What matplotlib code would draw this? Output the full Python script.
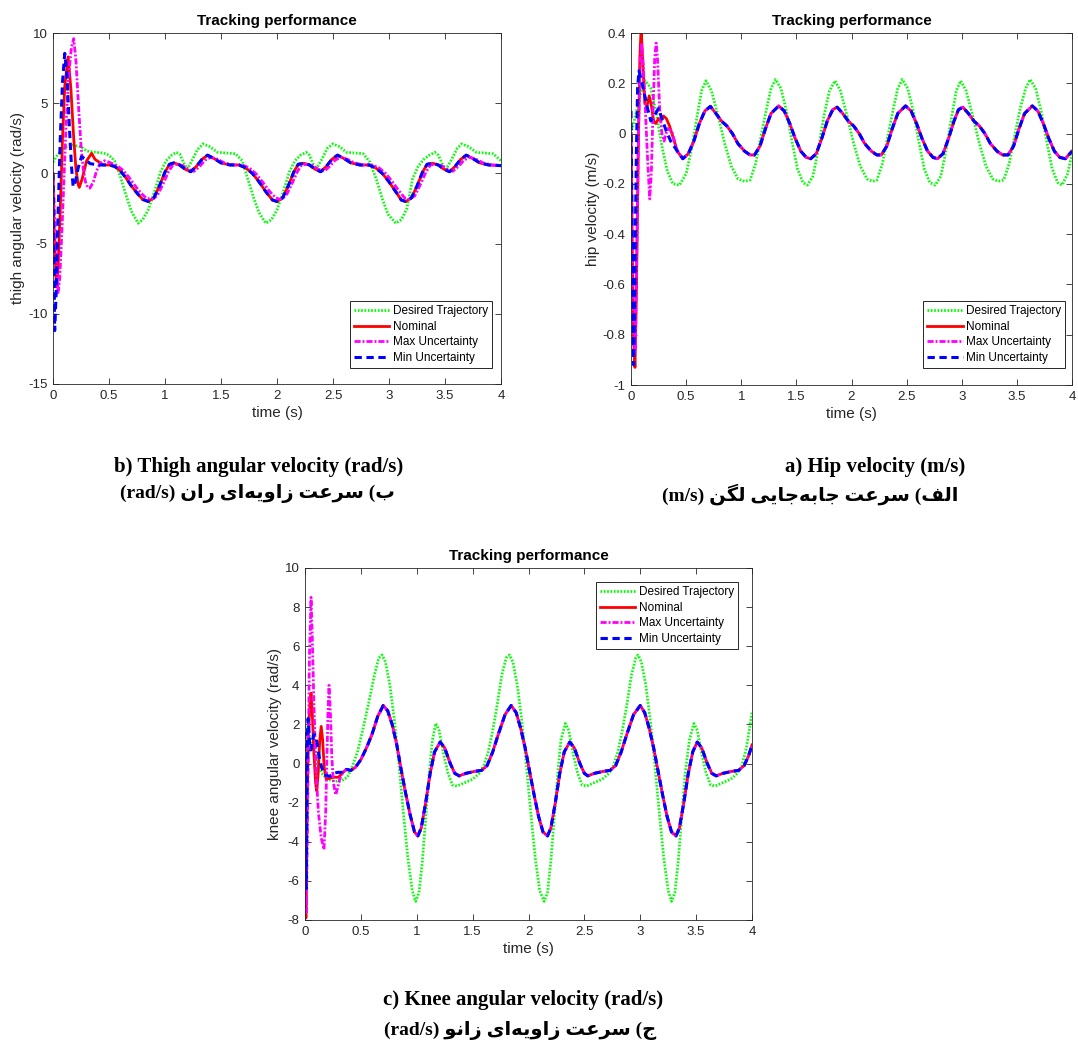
import numpy as np
import matplotlib.pyplot as plt

# ---------------- thigh angular velocity (rad/s) ----------------
thigh_desired = [
    (0.00, 0.8), (0.03, 1.2), (0.07, 1.6), (0.12, 1.9), (0.18, 2.0), (0.25, 1.9), (0.30, 1.6),
    (0.38, 1.5), (0.45, 1.45), (0.50, 1.3), (0.55, 0.9), (0.60, -0.2), (0.65, -1.5), (0.70, -2.7),
    (0.76, -3.55), (0.80, -3.3), (0.85, -2.6), (0.91, -1.2), (0.96, 0.1), (1.01, 0.9), (1.06, 1.3),
    (1.10, 1.5), (1.13, 1.4), (1.17, 0.7), (1.20, 0.3), (1.24, 0.9), (1.29, 1.7), (1.34, 2.1),
    (1.40, 1.9), (1.47, 1.5), (1.55, 1.45), (1.63, 1.4), (1.69, 0.9), (1.74, -0.4), (1.79, -1.7),
    (1.84, -2.8), (1.90, -3.55), (1.95, -3.3), (2.00, -2.6), (2.06, -1.2), (2.11, 0.1), (2.16, 0.9),
    (2.21, 1.3), (2.26, 1.5), (2.29, 1.3), (2.32, 0.7), (2.35, 0.3), (2.40, 1.0), (2.45, 1.8),
    (2.50, 2.1), (2.56, 1.9), (2.62, 1.5), (2.70, 1.45), (2.77, 1.4), (2.83, 0.8), (2.89, -0.5),
    (2.94, -1.8), (2.99, -2.9), (3.06, -3.55), (3.11, -3.3), (3.16, -2.5), (3.21, -0.4), (3.26, 0.5),
    (3.31, 1.0), (3.36, 1.3), (3.41, 1.5), (3.44, 1.3), (3.48, 0.6), (3.51, 0.3), (3.56, 1.0),
    (3.61, 1.8), (3.65, 2.1), (3.71, 1.9), (3.78, 1.5), (3.86, 1.45), (3.93, 1.4), (4.00, 0.9)]

thigh_nom_start = [
    (0.0, 0.0), (0.012, -4.5), (0.03, -8.1), (0.045, -6.8), (0.065, -2.5), (0.085, 2.5),
    (0.105, 6.2), (0.135, 8.3), (0.16, 6.0), (0.185, 2.5), (0.205, 0.3), (0.225, -0.8),
    (0.235, -1.0), (0.26, -0.4), (0.30, 0.9), (0.345, 1.43), (0.375, 1.0)]
thigh_min_start = [
    (0.0, 0.0), (0.007, -6.0), (0.015, -11.2), (0.028, -8.5), (0.045, -3.0), (0.065, 2.5),
    (0.085, 6.5), (0.105, 8.55), (0.125, 7.0), (0.145, 3.5), (0.165, 0.5), (0.18, -0.95),
    (0.20, -0.6), (0.225, 0.4), (0.255, 1.2), (0.29, 1.0), (0.33, 0.7), (0.40, 0.6)]
thigh_max_start = [
    (0.0, 0.0), (0.015, -3.0), (0.03, -6.5), (0.045, -8.5), (0.06, -7.5), (0.08, -4.0),
    (0.10, 0.0), (0.12, 4.0), (0.14, 7.0), (0.165, 9.0), (0.185, 9.6), (0.205, 8.0),
    (0.23, 4.5), (0.25, 2.0), (0.27, 0.3), (0.29, -0.6), (0.31, -1.0), (0.33, -1.05),
    (0.36, -0.6), (0.39, 0.2), (0.42, 0.7), (0.46, 0.9), (0.50, 0.8)]

thigh_track = [
    (0.45, 0.6), (0.50, 0.6), (0.55, 0.5), (0.60, 0.2), (0.65, -0.3), (0.70, -0.9), (0.75, -1.4),
    (0.80, -1.85), (0.85, -2.0), (0.90, -1.75), (0.95, -0.9), (1.00, 0.1), (1.04, 0.65),
    (1.08, 0.75), (1.13, 0.6), (1.18, 0.3), (1.23, 0.12), (1.28, 0.5), (1.33, 1.0), (1.38, 1.3),
    (1.44, 1.05), (1.50, 0.75), (1.58, 0.6), (1.66, 0.6), (1.72, 0.4), (1.78, 0.0), (1.84, -0.6),
    (1.90, -1.3), (1.96, -1.9), (2.00, -2.0), (2.05, -1.75), (2.10, -0.9), (2.15, 0.1),
    (2.19, 0.65), (2.24, 0.72), (2.29, 0.6), (2.34, 0.3), (2.39, 0.12), (2.44, 0.5), (2.49, 1.0),
    (2.54, 1.3), (2.60, 1.05), (2.66, 0.75), (2.74, 0.6), (2.82, 0.6), (2.88, 0.4), (2.94, 0.0),
    (3.00, -0.6), (3.06, -1.3), (3.11, -1.9), (3.15, -2.0), (3.20, -1.75), (3.25, -0.9),
    (3.30, 0.1), (3.34, 0.65), (3.39, 0.72), (3.44, 0.6), (3.49, 0.3), (3.54, 0.12), (3.59, 0.5),
    (3.64, 1.0), (3.69, 1.3), (3.75, 1.05), (3.81, 0.75), (3.89, 0.6), (3.95, 0.58), (4.00, 0.55)]
thigh_max_track = [
    (0.53, 0.7), (0.58, 0.5), (0.63, 0.2), (0.68, -0.3), (0.73, -0.85), (0.78, -1.35),
    (0.83, -1.75), (0.88, -1.85), (0.93, -1.6), (0.98, -0.8), (1.03, 0.1), (1.07, 0.6),
    (1.11, 0.65), (1.16, 0.55), (1.21, 0.3), (1.26, 0.15), (1.31, 0.5), (1.36, 0.95),
    (1.41, 1.15), (1.47, 1.0), (1.53, 0.75), (1.61, 0.6), (1.69, 0.6), (1.75, 0.4), (1.81, 0.0),
    (1.87, -0.6), (1.93, -1.25), (1.99, -1.75), (2.03, -1.85), (2.08, -1.6), (2.13, -0.8),
    (2.18, 0.1), (2.22, 0.6), (2.27, 0.65), (2.32, 0.55), (2.37, 0.3), (2.42, 0.15), (2.47, 0.5),
    (2.52, 0.95), (2.57, 1.15), (2.63, 1.0), (2.69, 0.75), (2.77, 0.6), (2.85, 0.6), (2.91, 0.4),
    (2.97, 0.0), (3.03, -0.6), (3.09, -1.25), (3.14, -1.75), (3.18, -1.85), (3.23, -1.6),
    (3.28, -0.8), (3.33, 0.1), (3.37, 0.6), (3.42, 0.65), (3.47, 0.55), (3.52, 0.3), (3.57, 0.15),
    (3.62, 0.5), (3.67, 0.95), (3.72, 1.15), (3.78, 1.0), (3.84, 0.75), (3.92, 0.6), (4.00, 0.55)]

# ---------------- hip velocity (m/s) ----------------
hip_desired = [
    (0.00, 0.0), (0.04, 0.07), (0.08, 0.15), (0.13, 0.21), (0.18, 0.18), (0.23, 0.08),
    (0.28, -0.05), (0.33, -0.15), (0.38, -0.2), (0.44, -0.205), (0.50, -0.16), (0.55, -0.06),
    (0.60, 0.07), (0.64, 0.17), (0.68, 0.21), (0.73, 0.17), (0.79, 0.07), (0.85, -0.04),
    (0.91, -0.13), (0.97, -0.18), (1.03, -0.19), (1.08, -0.185), (1.13, -0.12), (1.18, -0.01),
    (1.23, 0.1), (1.27, 0.18), (1.31, 0.215), (1.36, 0.18), (1.41, 0.09), (1.46, -0.03),
    (1.51, -0.14), (1.56, -0.195), (1.60, -0.205), (1.65, -0.17), (1.70, -0.06), (1.75, 0.07),
    (1.80, 0.17), (1.85, 0.21), (1.90, 0.17), (1.96, 0.07), (2.02, -0.04), (2.08, -0.13),
    (2.14, -0.18), (2.19, -0.19), (2.23, -0.185), (2.28, -0.12), (2.33, -0.01), (2.38, 0.1),
    (2.42, 0.18), (2.46, 0.215), (2.51, 0.18), (2.56, 0.09), (2.61, -0.03), (2.66, -0.14),
    (2.71, -0.195), (2.76, -0.205), (2.81, -0.17), (2.86, -0.06), (2.91, 0.07), (2.95, 0.17),
    (2.99, 0.21), (3.04, 0.17), (3.10, 0.07), (3.16, -0.04), (3.22, -0.13), (3.28, -0.18),
    (3.33, -0.19), (3.38, -0.185), (3.43, -0.12), (3.48, -0.01), (3.53, 0.1), (3.58, 0.18),
    (3.62, 0.215), (3.67, 0.18), (3.72, 0.09), (3.77, -0.03), (3.82, -0.14), (3.87, -0.195),
    (3.91, -0.205), (3.96, -0.16), (4.00, -0.08)]

hip_nom_start = [
    (0.0, 0.0), (0.01, -0.4), (0.022, -0.8), (0.036, -0.93), (0.05, -0.6), (0.065, -0.1),
    (0.08, 0.3), (0.092, 0.42), (0.105, 0.3), (0.125, 0.12), (0.145, 0.11), (0.165, 0.15),
    (0.185, 0.11), (0.205, 0.05), (0.225, 0.04), (0.25, 0.06), (0.27, 0.05), (0.295, 0.07),
    (0.32, 0.06), (0.35, 0.03)]
hip_min_start = [
    (0.0, 0.09), (0.008, -0.3), (0.018, -0.8), (0.024, -0.92), (0.035, -0.6), (0.048, -0.1),
    (0.06, 0.18), (0.072, 0.25), (0.09, 0.22), (0.115, 0.17), (0.15, 0.1), (0.18, 0.05),
    (0.21, 0.07), (0.25, 0.1), (0.28, 0.06), (0.32, 0.01), (0.36, -0.03)]
hip_max_start = [
    (0.0, 0.0), (0.012, -0.45), (0.028, -0.88), (0.04, -0.85), (0.055, -0.4), (0.07, 0.05),
    (0.085, 0.3), (0.097, 0.36), (0.11, 0.28), (0.13, 0.1), (0.15, -0.1), (0.17, -0.26),
    (0.185, -0.15), (0.2, 0.1), (0.215, 0.3), (0.228, 0.36), (0.24, 0.3), (0.26, 0.1),
    (0.28, 0.0), (0.3, -0.03), (0.33, 0.02), (0.37, 0.01)]

hip_track = [
    (0.42, -0.07), (0.47, -0.1), (0.52, -0.08), (0.57, -0.03), (0.62, 0.04), (0.67, 0.09),
    (0.72, 0.108), (0.77, 0.08), (0.82, 0.05), (0.87, 0.03), (0.92, 0.0), (0.97, -0.04),
    (1.03, -0.07), (1.08, -0.085), (1.12, -0.085), (1.17, -0.05), (1.22, 0.02), (1.27, 0.08),
    (1.34, 0.11), (1.39, 0.09), (1.44, 0.04), (1.49, -0.02), (1.54, -0.07), (1.59, -0.095),
    (1.63, -0.1), (1.68, -0.08), (1.73, -0.02), (1.78, 0.05), (1.83, 0.095), (1.87, 0.105),
    (1.92, 0.08), (1.97, 0.05), (2.02, 0.03), (2.07, 0.0), (2.12, -0.04), (2.18, -0.07),
    (2.23, -0.085), (2.27, -0.085), (2.32, -0.05), (2.37, 0.02), (2.42, 0.08), (2.49, 0.11),
    (2.54, 0.09), (2.59, 0.04), (2.64, -0.02), (2.69, -0.07), (2.74, -0.095), (2.78, -0.1),
    (2.83, -0.08), (2.88, -0.02), (2.93, 0.05), (2.97, 0.095), (3.01, 0.105), (3.06, 0.08),
    (3.11, 0.05), (3.16, 0.03), (3.21, 0.0), (3.26, -0.04), (3.32, -0.07), (3.37, -0.085),
    (3.42, -0.085), (3.47, -0.05), (3.52, 0.02), (3.57, 0.08), (3.64, 0.11), (3.69, 0.09),
    (3.74, 0.04), (3.79, -0.02), (3.84, -0.07), (3.89, -0.095), (3.94, -0.1), (3.98, -0.08),
    (4.00, -0.07)]

# ---------------- knee angular velocity (rad/s) ----------------
knee_desired = [
    (0.00, 1.9), (0.03, 1.6), (0.07, 1.0), (0.11, 0.2), (0.15, -0.5), (0.20, -0.8), (0.26, -0.9),
    (0.32, -0.9), (0.38, -0.7), (0.42, -0.2), (0.47, 0.6), (0.52, 1.8), (0.57, 3.1), (0.62, 4.5),
    (0.66, 5.4), (0.69, 5.55), (0.72, 5.2), (0.76, 4.0), (0.80, 2.2), (0.84, 0.0), (0.88, -2.5),
    (0.92, -4.8), (0.96, -6.5), (0.99, -7.05), (1.02, -6.6), (1.05, -5.0), (1.08, -2.8),
    (1.11, -0.6), (1.14, 1.2), (1.17, 2.05), (1.20, 1.7), (1.24, 0.5), (1.28, -0.5), (1.32, -1.1),
    (1.36, -1.15), (1.42, -1.0), (1.50, -0.8), (1.56, -0.5), (1.60, -0.1), (1.64, 0.6),
    (1.68, 1.7), (1.72, 3.0), (1.76, 4.5), (1.80, 5.4), (1.83, 5.55), (1.86, 5.2), (1.90, 4.0),
    (1.94, 2.2), (1.98, 0.0), (2.02, -2.5), (2.06, -4.8), (2.10, -6.5), (2.14, -7.05),
    (2.17, -6.6), (2.20, -5.0), (2.23, -2.8), (2.26, -0.6), (2.29, 1.2), (2.33, 2.05),
    (2.36, 1.7), (2.40, 0.5), (2.44, -0.5), (2.48, -1.1), (2.52, -1.15), (2.58, -1.0),
    (2.66, -0.8), (2.72, -0.5), (2.76, -0.1), (2.80, 0.6), (2.84, 1.7), (2.88, 3.0), (2.92, 4.5),
    (2.96, 5.4), (2.98, 5.55), (3.01, 5.2), (3.05, 4.0), (3.09, 2.2), (3.13, 0.0), (3.17, -2.5),
    (3.21, -4.8), (3.25, -6.5), (3.28, -7.05), (3.31, -6.6), (3.34, -5.0), (3.37, -2.8),
    (3.40, -0.6), (3.44, 1.2), (3.48, 2.05), (3.51, 1.7), (3.55, 0.5), (3.59, -0.5), (3.63, -1.1),
    (3.67, -1.15), (3.73, -1.0), (3.81, -0.8), (3.87, -0.5), (3.91, -0.1), (3.95, 0.8),
    (4.00, 2.6)]

knee_nom_start = [
    (0.0, 0.0), (0.004, -4.0), (0.008, -7.9), (0.014, -5.0), (0.022, -1.0), (0.032, 1.5),
    (0.045, 3.2), (0.054, 3.6), (0.065, 2.6), (0.08, 0.5), (0.095, -1.0), (0.105, -1.4),
    (0.118, -0.5), (0.132, 1.2), (0.145, 1.9), (0.158, 1.2), (0.172, -0.2), (0.19, -0.8),
    (0.22, -0.75), (0.26, -0.7)]
knee_min_start = [
    (0.0, 1.6), (0.005, -3.0), (0.01, -6.4), (0.016, -2.0), (0.022, 1.5), (0.028, 2.3),
    (0.036, 1.6), (0.045, 0.7), (0.055, 0.7), (0.068, 1.2), (0.08, 1.5), (0.095, 1.4),
    (0.11, 1.0), (0.125, 0.4), (0.14, 0.0), (0.16, -0.4), (0.185, -0.6), (0.22, -0.65),
    (0.26, -0.5), (0.29, -0.45)]
knee_max_start = [
    (0.0, 0.0), (0.006, -4.0), (0.012, -7.6), (0.02, -4.0), (0.03, 1.0), (0.04, 5.5),
    (0.054, 8.5), (0.065, 6.5), (0.08, 3.0), (0.1, -0.5), (0.12, -2.5), (0.145, -3.8),
    (0.17, -4.4), (0.185, -2.5), (0.195, 0.0), (0.205, 2.5), (0.215, 4.0), (0.228, 2.5),
    (0.24, 0.3), (0.255, -1.0), (0.275, -1.6), (0.29, -1.3), (0.31, -0.8)]

knee_track = [
    (0.34, -0.45), (0.37, -0.3), (0.41, -0.35), (0.45, -0.2), (0.50, 0.2), (0.55, 0.8),
    (0.60, 1.5), (0.65, 2.4), (0.70, 2.97), (0.74, 2.7), (0.78, 2.0), (0.82, 1.0), (0.86, -0.3),
    (0.90, -1.5), (0.94, -2.6), (0.98, -3.5), (1.01, -3.7), (1.04, -3.3), (1.08, -2.0),
    (1.12, -0.5), (1.16, 0.6), (1.21, 1.1), (1.25, 0.8), (1.30, 0.0), (1.34, -0.5), (1.38, -0.63),
    (1.44, -0.5), (1.52, -0.4), (1.58, -0.35), (1.63, -0.1), (1.68, 0.6), (1.73, 1.5), (1.79, 2.5),
    (1.845, 2.97), (1.89, 2.6), (1.93, 1.8), (1.97, 0.8), (2.01, -0.4), (2.05, -1.6), (2.09, -2.7),
    (2.13, -3.5), (2.17, -3.7), (2.20, -3.3), (2.24, -2.0), (2.28, -0.5), (2.32, 0.6), (2.37, 1.1),
    (2.41, 0.8), (2.46, 0.0), (2.50, -0.5), (2.53, -0.63), (2.59, -0.5), (2.67, -0.4),
    (2.73, -0.35), (2.78, -0.1), (2.83, 0.6), (2.88, 1.5), (2.94, 2.5), (3.00, 2.97), (3.04, 2.6),
    (3.08, 1.8), (3.12, 0.8), (3.16, -0.4), (3.20, -1.6), (3.24, -2.7), (3.28, -3.5), (3.32, -3.7),
    (3.35, -3.3), (3.39, -2.0), (3.43, -0.5), (3.47, 0.6), (3.51, 1.1), (3.55, 0.8), (3.60, 0.0),
    (3.64, -0.5), (3.68, -0.63), (3.74, -0.5), (3.82, -0.4), (3.88, -0.35), (3.93, -0.1),
    (3.97, 0.4), (4.00, 0.95)]

# knee tracking after the transient starts a little later for the nominal run
knee_nom_track = [(0.30, -0.7)] + knee_track

legend_labels = ['Desired Trajectory', 'Nominal', 'Max Uncertainty', 'Min Uncertainty']

# ---------------- Persian caption shaping ----------------
# (isolated, final, initial, medial) presentation forms
FORMS = {
    '\u0627': ('\uFE8D', '\uFE8E', None, None),
    '\u0628': ('\uFE8F', '\uFE90', '\uFE91', '\uFE92'),
    '\u062A': ('\uFE95', '\uFE96', '\uFE97', '\uFE98'),
    '\u062C': ('\uFE9D', '\uFE9E', '\uFE9F', '\uFEA0'),
    '\u0631': ('\uFEAD', '\uFEAE', None, None),
    '\u0632': ('\uFEAF', '\uFEB0', None, None),
    '\u0633': ('\uFEB1', '\uFEB2', '\uFEB3', '\uFEB4'),
    '\u0639': ('\uFEC9', '\uFECA', '\uFECB', '\uFECC'),
    '\u0641': ('\uFED1', '\uFED2', '\uFED3', '\uFED4'),
    '\u0644': ('\uFEDD', '\uFEDE', '\uFEDF', '\uFEE0'),
    '\u0646': ('\uFEE5', '\uFEE6', '\uFEE7', '\uFEE8'),
    '\u0647': ('\uFEE9', '\uFEEA', '\uFEEB', '\uFEEC'),
    '\u0648': ('\uFEED', '\uFEEE', None, None),
    '\u06CC': ('\uFBFC', '\uFBFD', '\uFBFE', '\uFBFF'),
    '\u06AF': ('\uFB92', '\uFB93', '\uFB94', '\uFB95'),
}


def to_visual(text):
    """Shape Persian letters and put them in left-to-right display order."""
    out = []
    for i, c in enumerate(text):
        if c not in FORMS:
            out.append(c)
            continue
        prev = text[i - 1] if i > 0 else ''
        nxt = text[i + 1] if i + 1 < len(text) else ''
        f = FORMS[c]
        join_prev = prev in FORMS and FORMS[prev][2] is not None
        join_next = f[2] is not None and nxt in FORMS
        if join_prev and join_next:
            out.append(f[3])
        elif join_prev:
            out.append(f[1])
        elif join_next:
            out.append(f[2])
        else:
            out.append(f[0])
    vis = ''.join(out).replace('\u200c', '')[::-1]
    return vis.translate(str.maketrans('()', ')('))


cap_b1 = 'b) Thigh angular velocity (rad/s)'
cap_b2 = '(rad/s) ' + to_visual('ب) سرعت زاویه\u200cای ران')
cap_a1 = 'a) Hip velocity (m/s)'
cap_a2 = '(m/s) ' + to_visual('الف) سرعت جابه\u200cجایی لگن')
cap_c1 = 'c) Knee angular velocity (rad/s)'
cap_c2 = '(rad/s) ' + to_visual('ج) سرعت زاویه\u200cای زانو')

# ---------------- drawing ----------------
plt.rcParams['font.family'] = ['Liberation Sans', 'DejaVu Sans']
W, H = 1078, 1045
fig = plt.figure(figsize=(W / 100, H / 100), dpi=100)


def pts(seq):
    a = np.array(seq, dtype=float)
    return a[:, 0], a[:, 1]


def draw(rect, desired, nom, mx, mn, ylim, yticks, ylabel, legend_loc, anchor):
    ax = fig.add_axes([rect[0] / W, 1 - rect[3] / H, (rect[2] - rect[0]) / W,
                       (rect[3] - rect[1]) / H])
    t, v = pts(desired)
    ax.plot(t, v, color='#00FF00', lw=2, dashes=(0.6, 0.6), label=legend_labels[0])
    t, v = pts(nom)
    ax.plot(t, v, color='#FF0000', lw=2, label=legend_labels[1])
    t, v = pts(mx)
    ax.plot(t, v, color='#FF00FF', lw=2, dashes=(2.2, 0.7, 0.7, 0.7), label=legend_labels[2])
    t, v = pts(mn)
    ax.plot(t, v, color='#0000FF', lw=2.2, dashes=(2.4, 1.5), label=legend_labels[3])
    ax.set_xlim(0, 4)
    ax.set_ylim(*ylim)
    xt = [0, 0.5, 1, 1.5, 2, 2.5, 3, 3.5, 4]
    ax.set_xticks(xt)
    ax.set_xticklabels(['%g' % x for x in xt])
    ax.set_yticks(yticks)
    ax.set_yticklabels(['%g' % y for y in yticks])
    ax.tick_params(direction='in', top=True, right=True, length=4, width=0.6,
                   labelsize=9.5, colors='#262626', pad=4)
    for s in ax.spines.values():
        s.set_color('#262626')
        s.set_linewidth(0.6)
    ax.set_title('Tracking performance', fontsize=11, fontweight='bold', pad=6)
    ax.set_xlabel('time (s)', fontsize=11, color='#262626', labelpad=3)
    ax.set_ylabel(ylabel, fontsize=11, color='#262626', labelpad=2)
    leg = ax.legend(loc=legend_loc, bbox_to_anchor=anchor, fontsize=8.5, fancybox=False,
                    framealpha=1, edgecolor='#262626', handlelength=3.0, handletextpad=0.3,
                    labelspacing=0.3, borderpad=0.35, borderaxespad=0)
    leg.get_frame().set_linewidth(0.7)
    return ax


draw((53, 33, 501, 384), thigh_desired, thigh_nom_start + thigh_track,
     thigh_max_start + thigh_max_track, thigh_min_start + thigh_track,
     (-15, 10), [-15, -10, -5, 0, 5, 10], 'thigh angular velocity (rad/s)',
     'lower right', (0.98, 0.046))
draw((631, 33, 1072, 385), hip_desired, hip_nom_start + hip_track,
     hip_max_start + hip_track, hip_min_start + hip_track,
     (-1, 0.4), [-1, -0.8, -0.6, -0.4, -0.2, 0, 0.2, 0.4], 'hip velocity (m/s)',
     'lower right', (0.985, 0.048))
draw((305, 568, 752, 920), knee_desired, knee_nom_start + knee_nom_track,
     knee_max_start + knee_track, knee_min_start + knee_track,
     (-8, 10), [-8, -6, -4, -2, 0, 2, 4, 6, 8, 10], 'knee angular velocity (rad/s)',
     'upper right', (0.969, 0.96))

serif = ['Liberation Serif', 'DejaVu Sans']
cap1 = dict(fontsize=15, fontweight='bold', family=serif, va='center')
cap2 = dict(fontsize=14, fontweight='bold', family=serif, va='center')
fig.text(259 / W, 1 - 467 / H, cap_b1, ha='center', **cap1)
fig.text(257 / W, 1 - 494 / H, cap_b2, ha='center', **cap2)
fig.text(965 / W, 1 - 467 / H, cap_a1, ha='right', **cap1)
fig.text(958 / W, 1 - 494 / H, cap_a2, ha='right', **cap2)
fig.text(523 / W, 1 - 1000 / H, cap_c1, ha='center', **cap1)
fig.text(520 / W, 1 - 1030 / H, cap_c2, ha='center', **cap2)

fig.savefig('out.png', dpi=100)
